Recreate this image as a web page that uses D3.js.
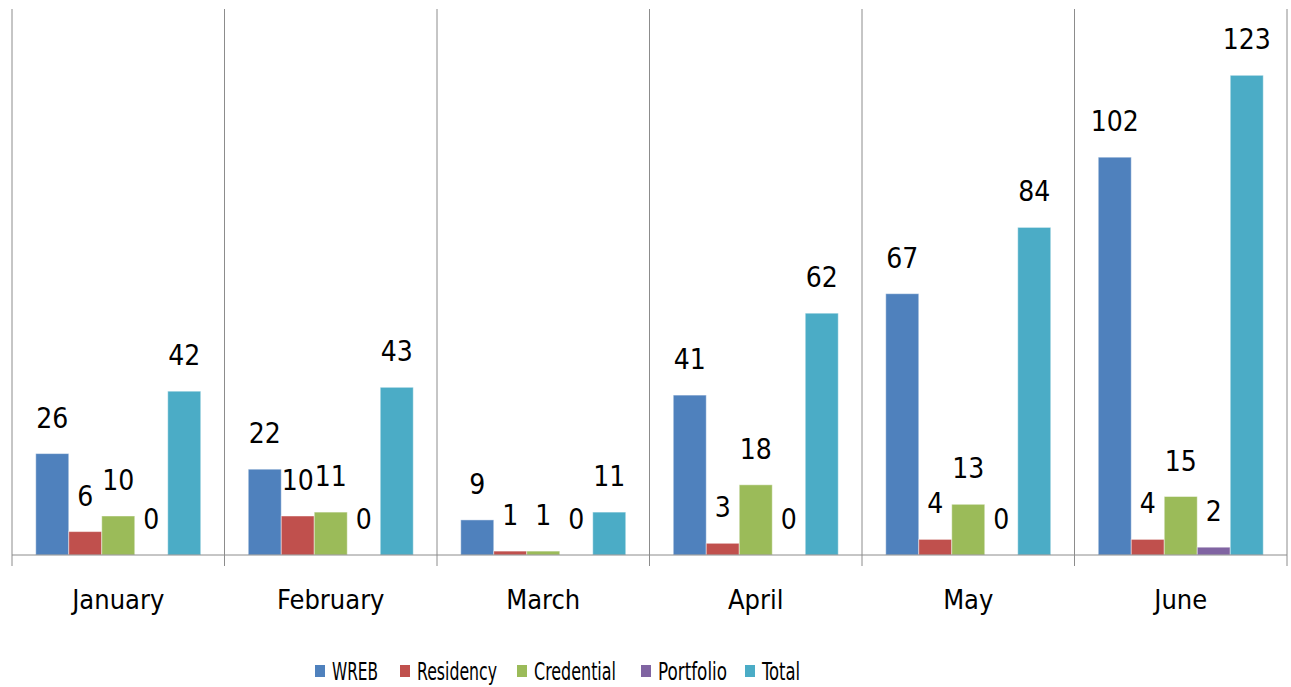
<!DOCTYPE html>
<html>
<head>
<meta charset="utf-8">
<script src="https://cdn.jsdelivr.net/npm/d3@7"></script>
<style>
  body { margin: 0; background: #fff; }
  text { font-family: "Liberation Sans Narrow", "DejaVu Sans Condensed", "Liberation Sans", sans-serif; fill: #000; }
</style>
</head>
<body>
<div id="chart"></div>
<script>
// chart data
var months = ["January", "February", "March", "April", "May", "June"];
var seriesNames = ["WREB", "Residency", "Credential", "Portfolio", "Total"];
var seriesColors = ["#4F81BD", "#C0504D", "#9BBB59", "#8064A2", "#4BACC6"];
var wreb = [26, 22, 9, 41, 67, 102];
var residency = [6, 10, 1, 3, 4, 4];
var credential = [10, 11, 1, 18, 13, 15];
var portfolio = [0, 0, 0, 0, 0, 2];
var total = [42, 43, 11, 62, 84, 123];
var yMax = 140;

var svgWidth = 1291;
var svgHeight = 687;
var margin = { top: 9, right: 4, bottom: 132, left: 12 };
var width = svgWidth - margin.left - margin.right;
var height = svgHeight - margin.top - margin.bottom;

var allValues = [wreb, residency, credential, portfolio, total];

// build rows: one per month, one value per series
var rows = months.map(function(m, i) {
  return {
    month: m,
    values: seriesNames.map(function(s, j) {
      return { key: s, value: allValues[j][i], color: seriesColors[j] };
    })
  };
});

var svg = d3.select("#chart").append("svg")
  .attr("width", svgWidth)
  .attr("height", svgHeight);

var chartGroup = svg.append("g")
  .attr("transform", `translate(${margin.left}, ${margin.top})`);

var x0 = d3.scaleBand().domain(months).range([0, width]).padding(0);
var x1 = d3.scaleBand().domain(seriesNames).range([0, x0.bandwidth()])
  .paddingInner(0).paddingOuter(0.72);
var y = d3.scaleLinear().domain([0, yMax]).range([height, 0]);

// vertical separators between months (with tick below the baseline)
var bounds = months.map(function(m) { return x0(m); }).concat([width]);
chartGroup.selectAll(".sep")
  .data(bounds)
  .enter()
  .append("line")
  .attr("x1", d => d).attr("x2", d => d)
  .attr("y1", 0).attr("y2", height + 11)
  .attr("stroke", "#8c8c8c")
  .attr("stroke-width", 1);

// month groups
var groups = chartGroup.selectAll(".month")
  .data(rows)
  .enter()
  .append("g")
  .attr("transform", d => `translate(${x0(d.month)},0)`);

groups.selectAll("rect")
  .data(d => d.values)
  .enter()
  .append("rect")
  .attr("x", d => x1(d.key))
  .attr("y", d => y(d.value))
  .attr("width", x1.bandwidth())
  .attr("height", d => height - y(d.value))
  .attr("fill", d => d.color)
  .attr("stroke", "rgba(255,255,255,0.45)")
  .attr("stroke-width", 1);

groups.selectAll(".val")
  .data(d => d.values)
  .enter()
  .append("text")
  .attr("x", d => x1(d.key) + x1.bandwidth() / 2)
  .attr("y", d => y(d.value) - 26)
  .attr("text-anchor", "middle")
  .attr("font-size", "28px")
  .text(d => d.value);

// baseline
chartGroup.append("line")
  .attr("x1", 0).attr("x2", width)
  .attr("y1", height).attr("y2", height)
  .attr("stroke", "#8c8c8c")
  .attr("stroke-width", 1);

// month labels
chartGroup.selectAll(".mlabel")
  .data(months)
  .enter()
  .append("text")
  .attr("x", d => x0(d) + x0.bandwidth() / 2)
  .attr("y", height + 54)
  .attr("text-anchor", "middle")
  .attr("font-size", "27px")
  .text(d => d);

// legend (narrow font in the original, so squeeze text to its width)
var legendX = [315, 400, 517, 641, 745];
var legendTextW = [46, 80, 82, 69, 38];
var legend = svg.append("g");
seriesNames.forEach(function(s, i) {
  var item = legend.append("g").attr("transform", `translate(${legendX[i]}, 671)`);
  item.append("rect")
    .attr("x", 0).attr("y", -6)
    .attr("width", 10).attr("height", 12)
    .attr("fill", seriesColors[i]);
  item.append("text")
    .attr("x", 17)
    .attr("y", 9)
    .attr("font-size", "25px")
    .attr("textLength", legendTextW[i])
    .attr("lengthAdjust", "spacingAndGlyphs")
    .text(s);
});
</script>
</body>
</html>
